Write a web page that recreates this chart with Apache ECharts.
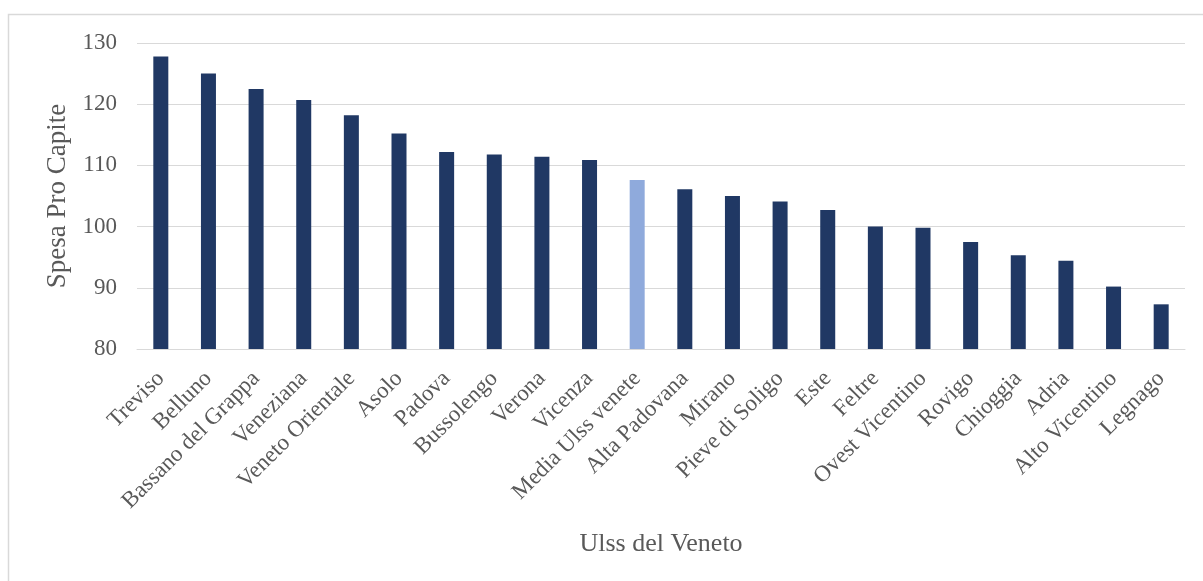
<!DOCTYPE html>
<html>
<head>
<meta charset="utf-8">
<style>
  html, body { margin: 0; padding: 0; background: #ffffff; }
  #chart { width: 1203px; height: 581px; }
</style>
<script src="https://cdn.jsdelivr.net/npm/echarts@6/dist/echarts.min.js"></script>
</head>
<body>
<div id="chart"></div>
<script>
// Spesa pro capite per Ulss del Veneto, ordered from highest to lowest
const categories = [
  'Treviso', 'Belluno', 'Bassano del Grappa', 'Veneziana', 'Veneto Orientale',
  'Asolo', 'Padova', 'Bussolengo', 'Verona', 'Vicenza', 'Media Ulss venete',
  'Alta Padovana', 'Mirano', 'Pieve di Soligo', 'Este', 'Feltre',
  'Ovest Vicentino', 'Rovigo', 'Chioggia', 'Adria', 'Alto Vicentino', 'Legnago'
];
const values = [
  127.8, 125.0, 122.5, 120.7, 118.2,
  115.2, 112.2, 111.8, 111.4, 110.9, 107.6,
  106.1, 105.0, 104.1, 102.7, 100.0,
  99.8, 97.5, 95.3, 94.4, 90.2, 87.3
];
const averageLabel = 'Media Ulss venete';

const FONT = '"Liberation Serif", "Times New Roman", serif';
const TEXT = '#595959';
const DARK = '#203864';
const LIGHT = '#8faadc';

const chart = echarts.init(document.getElementById('chart'), null, { renderer: 'canvas' });

chart.setOption({
  backgroundColor: '#ffffff',
  animation: false,
  graphic: [{
    type: 'rect',
    shape: { x: 8.5, y: 14.5, width: 1300, height: 700 },
    style: { fill: 'none', stroke: '#d9d9d9', lineWidth: 1.5 },
    silent: true
  }],
  grid: { left: 137, right: 18, top: 43, bottom: 232, containLabel: false },
  xAxis: {
    type: 'category',
    data: categories,
    name: 'Ulss del Veneto',
    nameLocation: 'middle',
    nameGap: 182,
    nameTextStyle: { fontFamily: FONT, fontSize: 26, color: TEXT },
    axisLine: { show: true, lineStyle: { color: '#d9d9d9', width: 1 } },
    axisTick: { show: false },
    axisLabel: {
      interval: 0,
      rotate: 45,
      margin: 26,
      fontFamily: FONT,
      fontSize: 23,
      color: TEXT
    }
  },
  yAxis: {
    type: 'value',
    min: 80,
    max: 130,
    interval: 10,
    name: 'Spesa Pro Capite',
    nameLocation: 'middle',
    nameGap: 63,
    nameTextStyle: { fontFamily: FONT, fontSize: 27, color: TEXT },
    axisLine: { show: false },
    axisTick: { show: false },
    axisLabel: { margin: 20, fontFamily: FONT, fontSize: 23, color: TEXT },
    splitLine: { lineStyle: { color: '#d9d9d9', width: 1 } }
  },
  series: [{
    type: 'bar',
    barWidth: 15,
    data: values.map((v, i) => ({
      value: v,
      itemStyle: { color: categories[i] === averageLabel ? LIGHT : DARK }
    }))
  }]
});
</script>
</body>
</html>
